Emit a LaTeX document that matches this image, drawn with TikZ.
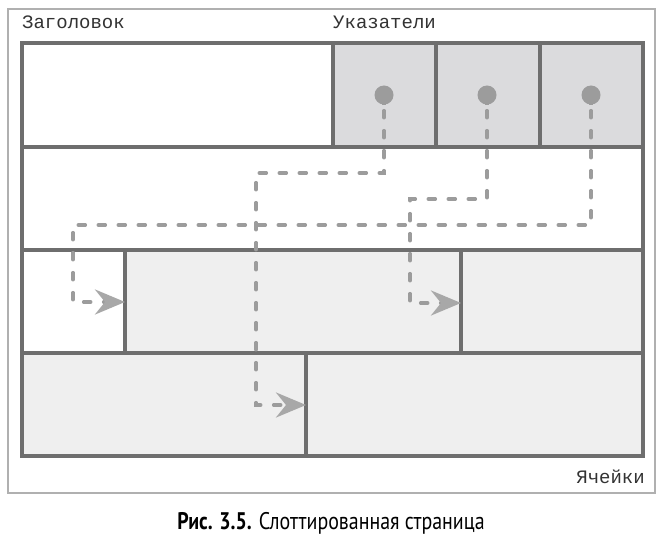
\documentclass[tikz,border=0pt]{standalone}
\usepackage{fontspec}
\setmainfont{Liberation Serif}
\newfontfamily\monofont{Liberation Mono}
\newfontfamily\capfont[FakeStretch=0.83]{PT Sans}
\usetikzlibrary{arrows.meta}
\definecolor{gridc}{HTML}{6E6E6E}
\definecolor{ptrfill}{HTML}{DBDBDD}
\definecolor{cellfill}{HTML}{EFEFEF}
\definecolor{dashc}{HTML}{9C9C9C}
\definecolor{tipc}{HTML}{A8A8A8}
\definecolor{framec}{HTML}{B0B0B0}
\definecolor{txtc}{HTML}{333333}
\tikzset{
  gridline/.style={draw=gridc, line width=4pt, line join=miter},
  ptr/.style={dashc, line width=3.5pt, dash pattern=on 7pt off 13pt, line cap=round,
    -{Stealth[length=30pt,width=25pt,inset=10pt,color=tipc,line cap=butt]}},
  dot/.style={circle, fill=dashc, inner sep=0pt, minimum size=19pt},
  lbl/.style={font=\monofont\fontsize{19}{22}\selectfont, text=txtc, inner sep=0pt},
}
\begin{document}
\begin{tikzpicture}[x=1pt,y=-1pt]
\useasboundingbox (0,0) rectangle (664,537);
\fill[white] (0,0) rectangle (664,537);
% outer thin frame
\draw[framec, line width=1.3pt] (8,9) rectangle (655,493);
% fills
\fill[ptrfill] (333,43) rectangle (643,147);
\fill[cellfill] (125,250) rectangle (643,353);
\fill[cellfill] (22,353) rectangle (643,456);
% grid
\draw[gridline] (22,43) rectangle (643,456);
\draw[gridline] (22,147) -- (643,147);
\draw[gridline] (22,250) -- (643,250);
\draw[gridline] (22,353) -- (643,353);
\draw[gridline] (333,43) -- (333,147);
\draw[gridline] (436,43) -- (436,147);
\draw[gridline] (540,43) -- (540,147);
\draw[gridline] (125,250) -- (125,353);
\draw[gridline] (461,250) -- (461,353);
\draw[gridline] (306,353) -- (306,456);
% labels
\node[lbl, anchor=base west] (hdr) at (22,29) {Заголовок};
\node[lbl, anchor=base west] (ptrs) at (333,29) {Указатели};
\node[lbl, anchor=base east] (cells) at (645,483) {Ячейки};
% pointers
\node[dot] (p1) at (384,95) {};
\node[dot] (p2) at (487,95) {};
\node[dot] (p3) at (591,95) {};
\foreach \p in {p1,p2,p3}
  \fill[dashc] ([xshift=-2pt]\p.south) rectangle ([xshift=2pt,yshift=5pt]\p.south);
\coordinate (t1) at (306,405);
\coordinate (t2) at (461,303);
\coordinate (t3) at (125,302);
\draw[ptr] ([yshift=14pt]p1.south) -- (384,173) -- (256,173) -- (256,405) -- (t1);
\draw[ptr] ([yshift=14pt]p2.south) -- (487,199) -- (410,199) -- (410,303) -- (t2);
\draw[ptr] ([yshift=14pt]p3.south) -- (591,225) -- (73,225) -- (73,302) -- (t3);
% caption
\node[inner sep=0pt, anchor=base, text=black] (cap) at (331,529)
  {\capfont\fontsize{24}{28}\selectfont\textbf{Рис. 3.5.} Слоттированная страница};
\end{tikzpicture}
\end{document}
